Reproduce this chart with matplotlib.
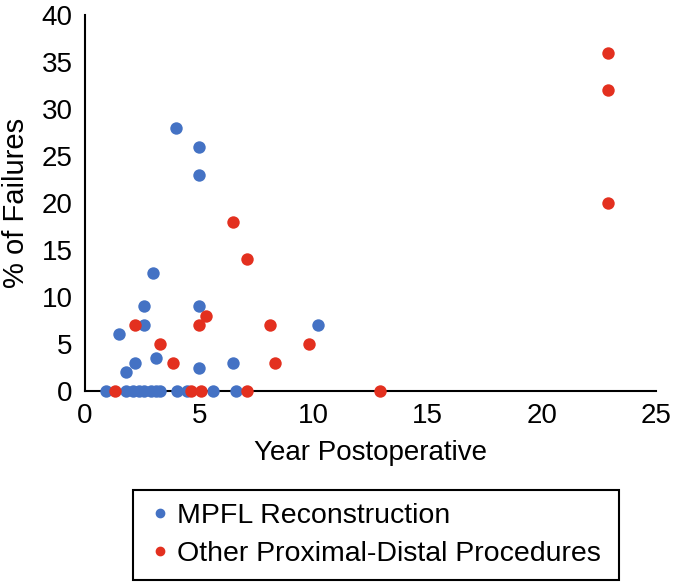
import matplotlib.pyplot as plt
from matplotlib.lines import Line2D

plt.rcParams['font.family'] = ['Liberation Sans', 'DejaVu Sans']

# MPFL Reconstruction
mpfl_x = [4.0, 5.0, 5.0, 3.0, 2.6, 5.0, 2.6, 1.5, 3.1, 2.2, 1.8, 5.0, 6.5, 10.2,
          0.9, 1.8, 2.1, 2.35, 2.6, 2.9, 3.1, 3.3, 4.05, 4.45, 5.6, 6.6]
mpfl_y = [28, 26, 23, 12.5, 9, 9, 7, 6, 3.5, 3, 2, 2.4, 3, 7,
          0, 0, 0, 0, 0, 0, 0, 0, 0, 0, 0, 0]

# Other proximal-distal procedures
other_x = [6.5, 7.1, 5.3, 2.2, 5.0, 8.1, 3.3, 3.85, 8.3, 9.8, 22.9, 22.9, 22.9,
           1.33, 4.65, 5.07, 7.1, 12.9]
other_y = [18, 14, 8, 7, 7, 7, 5, 3, 3, 5, 36, 32, 20,
           0, 0, 0, 0, 0]

blue = '#4472C4'
red = '#E3301F'

fig = plt.figure(figsize=(6.85, 5.85), dpi=100)
ax = fig.add_axes([0.124, 0.332, 0.834, 0.642])

ax.scatter(mpfl_x, mpfl_y, s=80, color=blue, linewidths=0, zorder=3, clip_on=False)
ax.scatter(other_x, other_y, s=80, color=red, linewidths=0, zorder=4, clip_on=False)

ax.set_xlim(0, 25)
ax.set_ylim(0, 40)
ax.set_xticks(range(0, 26, 5))
ax.set_yticks(range(0, 41, 5))
ax.tick_params(length=0, labelsize=20, pad=9)
for s in ['top', 'right']:
    ax.spines[s].set_visible(False)
for s in ['left', 'bottom']:
    ax.spines[s].set_linewidth(1.5)
ax.set_xlabel('Year Postoperative', fontsize=20, labelpad=8)
ax.set_ylabel('% of Failures', fontsize=21, labelpad=8)

handles = [Line2D([], [], marker='o', color=blue, linestyle='', markersize=6),
           Line2D([], [], marker='o', color=red, linestyle='', markersize=6)]
leg = fig.legend(handles, ['MPFL Reconstruction', 'Other Proximal-Distal Procedures'],
                 loc='upper left', bbox_to_anchor=(133 / 685, 0, 486 / 685, 1 - 490 / 585),
                 mode='expand', fontsize=20.5, frameon=True, fancybox=False,
                 edgecolor='black', framealpha=1,
                 handlelength=1.0, handletextpad=0.1, borderpad=0.45,
                 labelspacing=0.43, borderaxespad=0)
leg.get_frame().set_linewidth(1.5)

fig.savefig('out.png', dpi=100)
